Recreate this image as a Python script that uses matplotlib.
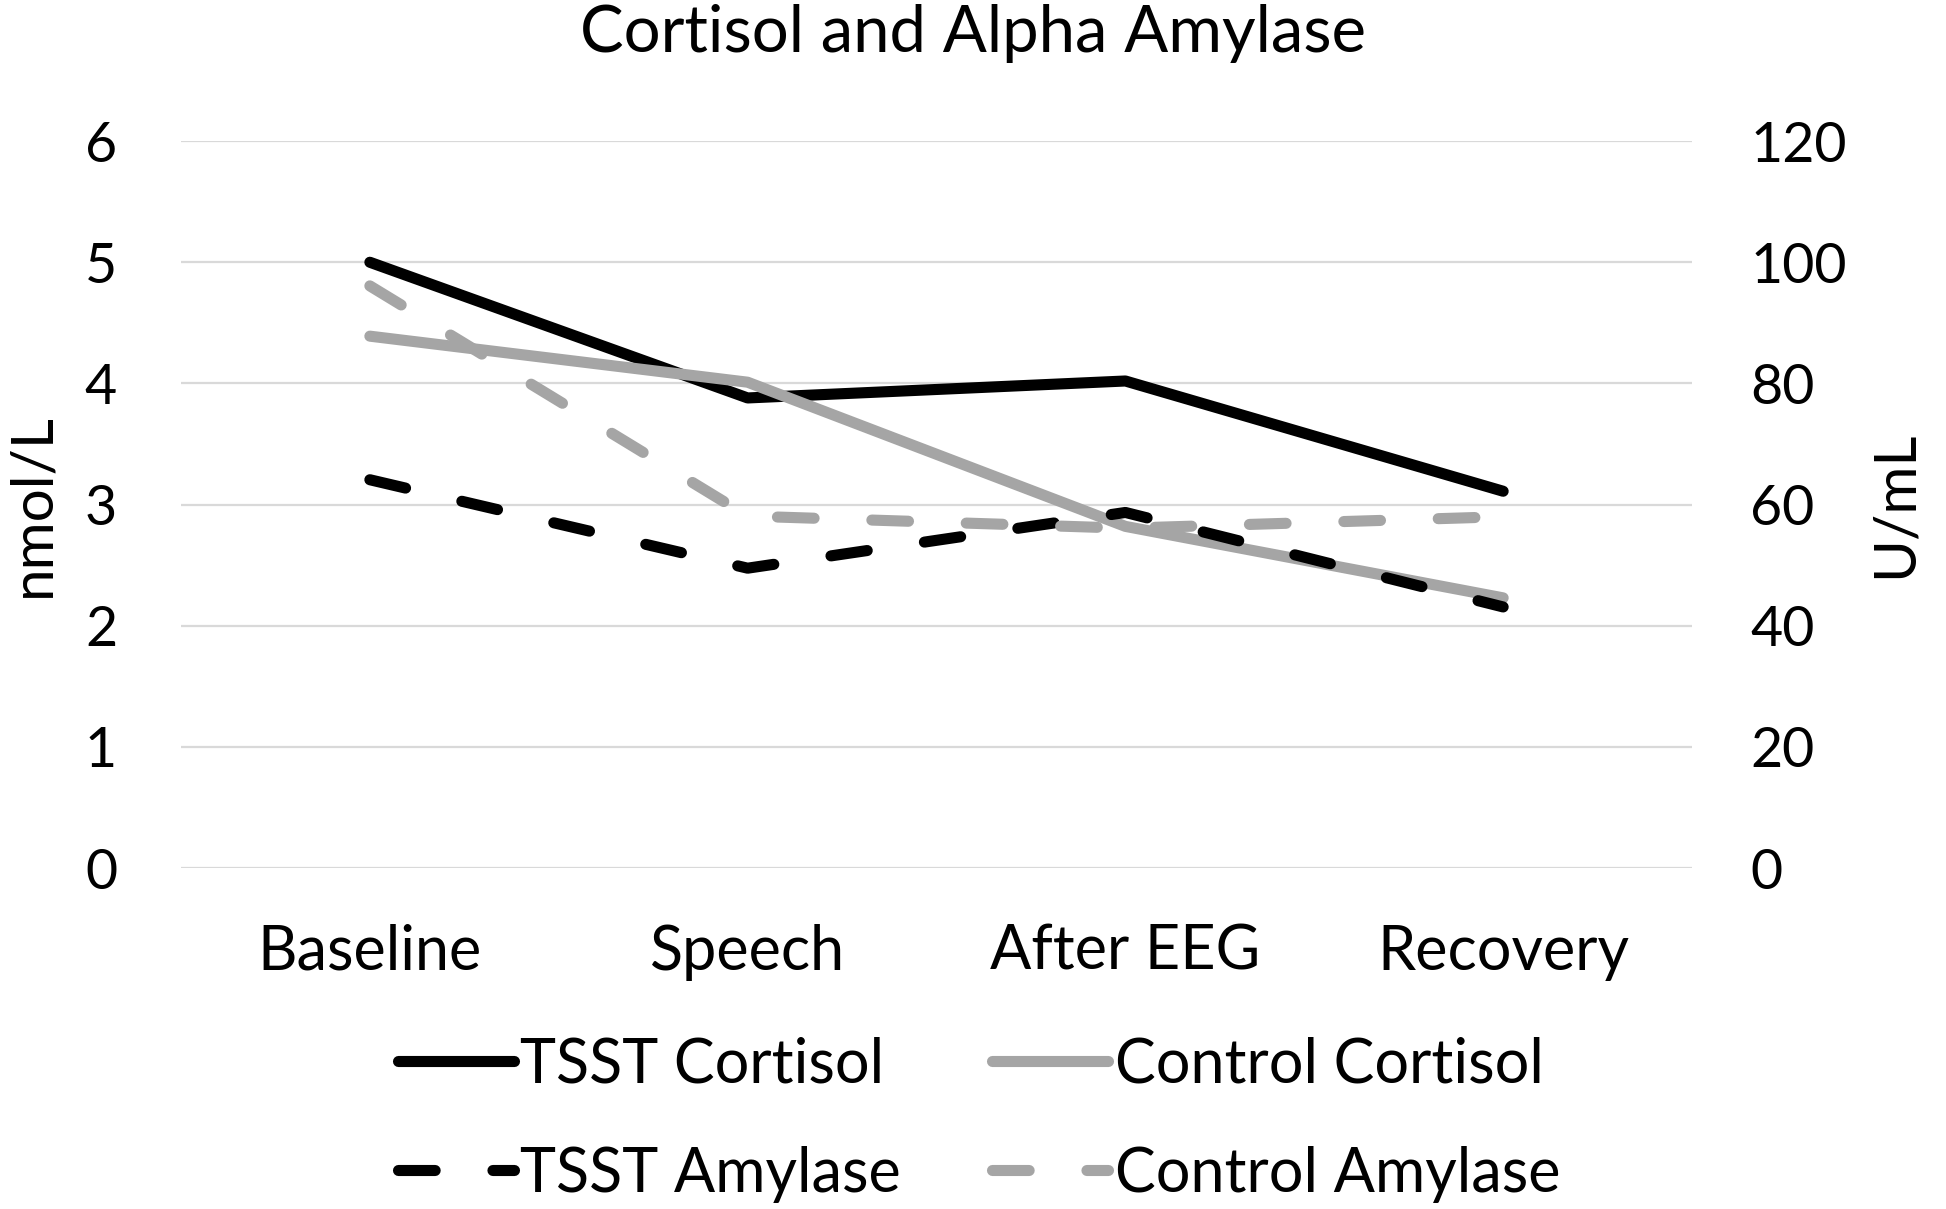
import matplotlib
matplotlib.use('Agg')
import matplotlib.pyplot as plt
from matplotlib.lines import Line2D

plt.rcParams['font.family'] = ['Lato', 'DejaVu Sans']

# data
categories = ['Baseline', 'Speech', 'After EEG', 'Recovery']
tsst_cortisol = [5.0, 3.88, 4.02, 3.11]
control_cortisol = [4.39, 4.01, 2.82, 2.23]
tsst_amylase = [64.1, 49.5, 58.7, 43.1]
control_amylase = [96.1, 58.1, 56.1, 58.0]
left_ticks = [0, 1, 2, 3, 4, 5, 6]
right_ticks = [0, 20, 40, 60, 80, 100, 120]

black = '#000000'
grey = '#A5A5A5'
lw = 8
dash = (3.3, 5.2)
fs = 40

fig = plt.figure(figsize=(19.46, 12.09), dpi=100)
ax = fig.add_axes([0.093, 0.282, 0.7765, 0.6013])
ax2 = ax.twinx()

x = range(len(categories))

for y in left_ticks:
    ax.axhline(y, color='#D9D9D9', linewidth=1.6, zorder=0)

ax.plot(x, tsst_cortisol, color=black, linewidth=lw, solid_capstyle='round',
        solid_joinstyle='round', zorder=3)
ax.plot(x, control_cortisol, color=grey, linewidth=lw, solid_capstyle='round',
        solid_joinstyle='round', zorder=4)
ax2.plot(x, tsst_amylase, color=black, linewidth=lw, dashes=dash,
         dash_capstyle='round', zorder=3)
ax2.plot(x, control_amylase, color=grey, linewidth=lw, dashes=dash,
         dash_capstyle='round', zorder=4)

ax.set_xlim(-0.5, len(categories) - 0.5)
ax.set_ylim(0, 6)
ax2.set_ylim(0, 120)
ax.set_yticks(left_ticks)
ax2.set_yticks(right_ticks)
ax.set_xticks(list(x))
ax.set_xticklabels(categories)

for a in (ax, ax2):
    for s in a.spines.values():
        s.set_visible(False)
    a.tick_params(length=0, labelsize=fs)
ax.tick_params(axis='x', pad=40, labelsize=44)
ax.tick_params(axis='y', pad=46)
ax2.tick_params(axis='y', pad=42)

ax.set_ylabel('nmol/L', fontsize=42, labelpad=18)
ax2.set_ylabel('U/mL', fontsize=42, rotation=90, labelpad=16)

fig.text(0.5, 0.972, 'Cortisol and Alpha Amylase', fontsize=47, ha='center', va='center')

handles = [
    Line2D([], [], color=black, linewidth=lw, solid_capstyle='round'),
    Line2D([], [], color=black, linewidth=lw, dashes=dash, dash_capstyle='round'),
    Line2D([], [], color=grey, linewidth=lw, solid_capstyle='round'),
    Line2D([], [], color=grey, linewidth=lw, dashes=dash, dash_capstyle='round'),
]
labels = ['TSST Cortisol', 'TSST Amylase', 'Control Cortisol', 'Control Amylase']
fig.legend(handles, labels, ncol=2, loc='center', bbox_to_anchor=(0.503, 0.074),
           frameon=False, fontsize=44, handlelength=1.9, handletextpad=0.1,
           columnspacing=1.5, labelspacing=0.85)

fig.savefig('out.png', dpi=100)
